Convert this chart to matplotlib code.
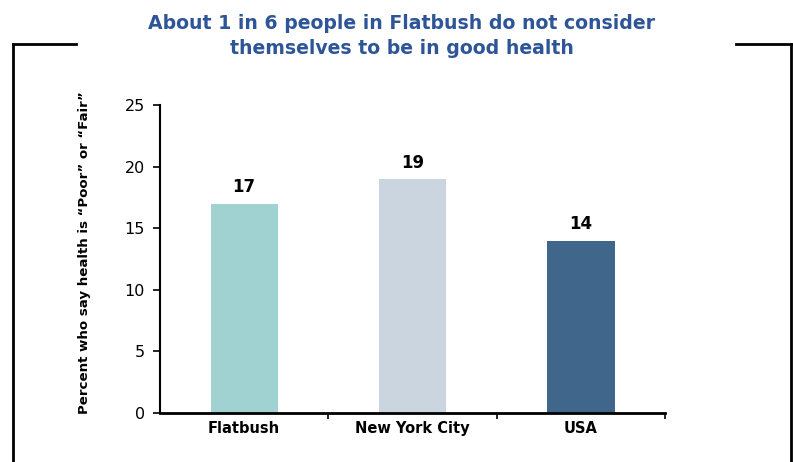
import matplotlib
matplotlib.use("Agg")
import matplotlib.pyplot as plt
from matplotlib.lines import Line2D
import numpy as np

categories = ["Flatbush", "New York City", "USA"]
values = [17, 19, 14]
colors = ["#A0D2D2", "#CAD5E0", "#41668B"]
yticks = [0, 5, 10, 15, 20, 25]
title = "About 1 in 6 people in Flatbush do not consider\nthemselves to be in good health"
ylabel = "Percent who say health is \u201cPoor\u201d or \u201cFair\u201d"

plt.rcParams['font.family'] = ['DejaVu Sans']

W, H = 793, 462
fig = plt.figure(figsize=(W/100, H/100), dpi=100)
ax = fig.add_axes([160/W, 1-413/H, (665-160)/W, (413-105)/H])

x = np.arange(len(categories))
ax.bar(x, values, width=0.4, color=colors, zorder=2)
for xi, v in zip(x, values):
    ax.text(xi, v + 0.6, str(v), ha="center", va="bottom", fontsize=12, fontweight="bold")

ax.set_xlim(-0.5, len(categories)-0.5)
ax.set_ylim(0, 25)
ax.set_yticks(yticks)
ax.set_yticklabels([str(t) for t in yticks], fontsize=11.5)
ax.set_xticks(x)
ax.set_xticklabels(categories, fontsize=10.5, fontweight="bold")
ax.tick_params(axis="x", length=0, pad=5.5)
ax.set_xticks(np.arange(len(categories)) + 0.5, minor=True)
ax.tick_params(axis="x", which="minor", length=4, width=1.2, direction="out")
ax.tick_params(axis="y", length=5, width=1.2, direction="out", pad=6)
for s in ["top", "right"]:
    ax.spines[s].set_visible(False)
ax.spines["left"].set_linewidth(1.5)
ax.spines["bottom"].set_linewidth(2)

fig.text(85/W, 1-253/H, ylabel, rotation=90, ha="center", va="center", fontsize=9.6, fontweight="bold")
fig.text(402/W, 1-36/H, title, ha="center", va="center", fontsize=13.6, fontweight="bold",
         color="#2E5597", linespacing=1.45)

# frame lines
lw = 2
fig.add_artist(Line2D([13/W, 13/W], [0, 1-44/H], color="black", lw=lw, transform=fig.transFigure))
fig.add_artist(Line2D([13/W, 76/W], [1-44/H, 1-44/H], color="black", lw=lw, transform=fig.transFigure))
fig.add_artist(Line2D([736/W, 791/W], [1-44/H, 1-44/H], color="black", lw=lw, transform=fig.transFigure))
fig.add_artist(Line2D([791/W, 791/W], [0, 1-44/H], color="black", lw=lw, transform=fig.transFigure))

fig.savefig("out.png", dpi=100)
